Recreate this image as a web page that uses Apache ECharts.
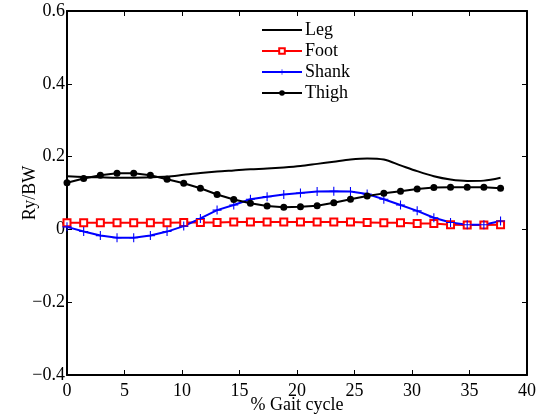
<!DOCTYPE html>
<html>
<head>
<meta charset="utf-8">
<script src="https://cdn.jsdelivr.net/npm/echarts@6/dist/echarts.min.js"></script>
<style>html,body{margin:0;padding:0;background:#fff;}#c{width:539px;height:420px;}</style>
</head>
<body>
<div id="c"></div>
<script>
var gait = [0, 1.45, 2.9, 4.35, 5.8, 7.25, 8.7, 10.15, 11.6, 13.05, 14.5, 15.95, 17.4, 18.85, 20.3, 21.75, 23.2, 24.65, 26.1, 27.55, 29.0, 30.45, 31.9, 33.35, 34.8, 36.25, 37.7];
var leg = [0.146, 0.144, 0.143, 0.142, 0.142, 0.143, 0.145, 0.150, 0.155, 0.159, 0.162, 0.165, 0.167, 0.170, 0.174, 0.180, 0.186, 0.192, 0.195, 0.192, 0.176, 0.160, 0.146, 0.137, 0.133, 0.134, 0.142];
var foot = [0.018, 0.018, 0.018, 0.018, 0.018, 0.018, 0.018, 0.019, 0.019, 0.019, 0.020, 0.020, 0.020, 0.020, 0.020, 0.020, 0.020, 0.020, 0.019, 0.018, 0.018, 0.016, 0.016, 0.013, 0.012, 0.012, 0.013];
var shank = [0.007, -0.006, -0.017, -0.023, -0.023, -0.017, -0.006, 0.009, 0.030, 0.053, 0.067, 0.083, 0.090, 0.096, 0.100, 0.104, 0.105, 0.104, 0.097, 0.083, 0.067, 0.051, 0.032, 0.019, 0.013, 0.013, 0.023];
var thigh = [0.128, 0.140, 0.149, 0.154, 0.154, 0.149, 0.138, 0.127, 0.113, 0.096, 0.082, 0.072, 0.064, 0.061, 0.062, 0.065, 0.073, 0.083, 0.092, 0.099, 0.105, 0.111, 0.115, 0.116, 0.116, 0.116, 0.113];
var seriesNames = ['Leg', 'Foot', 'Shank', 'Thigh'];
var xTicks = [0, 5, 10, 15, 20, 25, 30, 35, 40];
var yTicks = [-0.4, -0.2, 0, 0.2, 0.4, 0.6];

function pairs(ys) { return gait.map(function (x, i) { return [x, ys[i]]; }); }
function fmt(v) { var s = String(Math.round(v * 10) / 10); return s.replace('-', '\u2212'); }

var FONT = '"Liberation Serif", "DejaVu Serif", serif';
var plus = 'path://M-0.12,-1 L0.12,-1 L0.12,-0.12 L1,-0.12 L1,0.12 L0.12,0.12 L0.12,1 L-0.12,1 L-0.12,0.12 L-1,0.12 L-1,-0.12 L-0.12,-0.12 Z';

var axisLine = { show: true, onZero: false, lineStyle: { color: '#000', width: 2 } };
var tick = { show: true, inside: true, length: 5, lineStyle: { color: '#000', width: 1 } };

var chart = echarts.init(document.getElementById('c'), null, { renderer: 'canvas' });
chart.setOption({
  animation: false,
  backgroundColor: '#fff',
  textStyle: { fontFamily: FONT, color: '#000' },
  grid: { left: 67, right: 10, top: 11, bottom: 45 },
  legend: {
    orient: 'vertical', left: 256, top: 16,
    itemWidth: 40, itemHeight: 7, itemGap: 3,
    data: [
      { name: seriesNames[0], itemStyle: { opacity: 0 } },
      { name: seriesNames[1] },
      { name: seriesNames[2] },
      { name: seriesNames[3] }
    ],
    textStyle: { fontFamily: FONT, fontSize: 18, color: '#000', padding: [0, 0, 0, -2] }
  },
  xAxis: [{
    type: 'value', min: xTicks[0], max: xTicks[xTicks.length - 1], interval: 5,
    position: 'bottom',
    name: '% Gait cycle', nameLocation: 'middle', nameGap: 21, nameMoveOverlap: false,
    nameTextStyle: { fontFamily: FONT, fontSize: 18, color: '#000' },
    axisLine: axisLine, axisTick: tick,
    axisLabel: { fontFamily: FONT, fontSize: 18, color: '#000', margin: 7, formatter: function (v) { return String(v); } },
    splitLine: { show: false }
  }, {
    type: 'value', min: xTicks[0], max: xTicks[xTicks.length - 1], interval: 5,
    position: 'top', axisLine: axisLine, axisTick: tick, axisLabel: { show: false }, splitLine: { show: false }
  }],
  yAxis: [{
    type: 'value', min: yTicks[0], max: yTicks[yTicks.length - 1], interval: 0.2,
    position: 'left',
    name: 'Ry/BW', nameLocation: 'middle', nameGap: 28, nameMoveOverlap: false,
    nameTextStyle: { fontFamily: FONT, fontSize: 18, color: '#000' },
    axisLine: axisLine, axisTick: tick,
    axisLabel: { fontFamily: FONT, fontSize: 18, color: '#000', margin: 2, formatter: fmt },
    splitLine: { show: false }
  }, {
    type: 'value', min: yTicks[0], max: yTicks[yTicks.length - 1], interval: 0.2,
    position: 'right', axisLine: axisLine, axisTick: tick, axisLabel: { show: false }, splitLine: { show: false }
  }],
  series: [
    { name: 'Leg', type: 'line', data: pairs(leg), smooth: 0.3, symbol: 'none',
      lineStyle: { color: '#000', width: 2 }, itemStyle: { color: '#000' } },
    { name: 'Foot', type: 'line', data: pairs(foot), symbol: 'emptyRect', symbolSize: 7,
      lineStyle: { color: '#ff0000', width: 2 }, itemStyle: { color: '#ff0000', borderWidth: 1.5 } },
    { name: 'Shank', type: 'line', data: pairs(shank), symbol: plus, symbolSize: 9,
      lineStyle: { color: '#0000ff', width: 2 }, itemStyle: { color: '#0000ff' } },
    { name: 'Thigh', type: 'line', data: pairs(thigh), symbol: 'circle', symbolSize: 7,
      lineStyle: { color: '#000', width: 2 }, itemStyle: { color: '#000' } }
  ]
});
</script>
</body>
</html>
